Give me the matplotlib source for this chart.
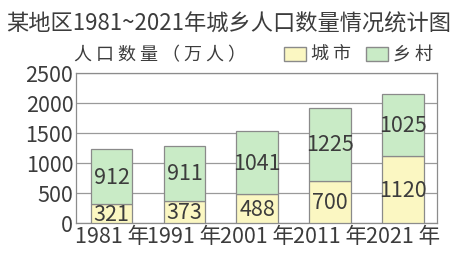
import numpy as np
import matplotlib.pyplot as plt
from matplotlib.patches import Patch

plt.rcParams['font.family'] = ['Noto Sans CJK SC', 'DejaVu Sans']

years = ["1981 年", "1991 年", "2001 年", "2011 年", "2021 年"]
city = [321, 373, 488, 700, 1120]
rural = [912, 911, 1041, 1225, 1025]

c_city = "#fbf7c2"
c_rural = "#c9ebc6"
c_edge = "#8a8a8a"
c_text = "#3c3c3c"

fig = plt.figure(figsize=(4.57, 2.54), dpi=100)
ax = fig.add_axes([76 / 457, 1 - 223 / 254, 361 / 457, 150 / 254])

x = np.arange(len(years))
w = 0.57
ax.bar(x, city, width=w, color=c_city, edgecolor=c_edge, linewidth=0.9, zorder=3)
ax.bar(x, rural, width=w, bottom=city, color=c_rural, edgecolor=c_edge, linewidth=0.9, zorder=3)

for i in range(len(x)):
    ax.text(x[i], city[i] / 2 - 20, str(city[i]), ha="center", va="center",
            fontsize=15.5, color=c_text, zorder=4)
    ax.text(x[i], city[i] + rural[i] / 2 - 20, str(rural[i]), ha="center", va="center",
            fontsize=15.5, color=c_text, zorder=4)

ax.set_xlim(-0.49, 4.47)
ax.set_ylim(0, 2500)
ax.set_yticks(range(0, 2501, 500))
ax.set_xticks(x)
ax.set_xticklabels(years)
ax.yaxis.grid(True, color="#9a9a9a", linewidth=0.9, zorder=0)
ax.tick_params(axis="both", length=0, labelsize=15.5, colors=c_text, pad=2)
for s in ax.spines.values():
    s.set_color("#8c8c8c")
    s.set_linewidth(0.9)

fig.text(0.5, 1 - 24 / 254, "某地区1981~2021年城乡人口数量情况统计图", ha="center", va="center",
         fontsize=16, color=c_text)
fig.text(74 / 457, 1 - 55 / 254, "人 口 数 量 （ 万 人 ）", ha="left", va="center",
         fontsize=13, color=c_text)

handles = [Patch(facecolor=c_city, edgecolor=c_edge, label="城 市"),
           Patch(facecolor=c_rural, edgecolor=c_edge, label="乡 村")]
fig.legend(handles=handles, loc="center right", bbox_to_anchor=(442 / 457, 1 - 55 / 254),
           ncol=2, frameon=False, fontsize=13, handlelength=1.2, handleheight=0.8,
           handletextpad=0.3, columnspacing=0.8, labelcolor=c_text, borderpad=0)

fig.savefig("out.png", dpi=100)
